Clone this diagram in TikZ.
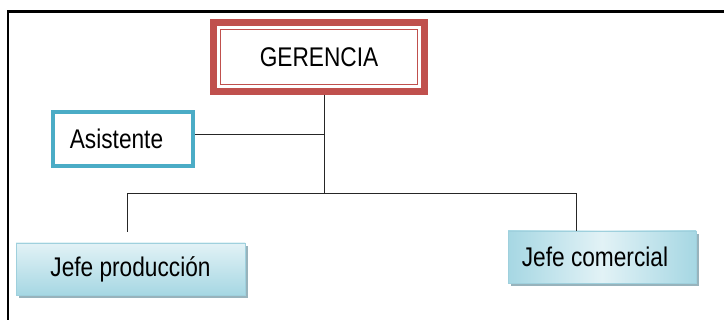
\documentclass[tikz,border=0pt]{standalone}
\usepackage{fontspec}
\setmainfont{Liberation Sans}[FakeStretch=0.84]
\usetikzlibrary{shadows,calc}
\definecolor{gred}{HTML}{C0504D}
\definecolor{ablue}{HTML}{4BACC6}
\definecolor{jtop}{HTML}{E2F2F6}
\definecolor{jbot}{HTML}{A6D7E3}
\definecolor{jedge}{HTML}{9FD0DD}
\definecolor{jshadow}{HTML}{98B3BC}
\begin{document}
\begin{tikzpicture}[x=1pt,y=-1pt,
  every node/.style={font=\fontsize{27}{30}\selectfont, inner sep=0pt, outer sep=0pt},
  conn/.style={draw=black!85, line width=0.9pt},
  frame/.style={draw=black, line width=2.2pt},
  gerbox/.style={draw=gred, line width=7pt, fill=white, minimum width=211pt, minimum height=69pt},
  gerinner/.style={draw=gred, line width=1.6pt},
  asisbox/.style={draw=ablue, line width=4pt, fill=white, minimum width=140pt, minimum height=54pt},
  jefebox/.style={draw=jedge, line width=0.6pt, minimum height=52pt,
    drop shadow={shadow xshift=2.5pt, shadow yshift=-3pt, fill=jshadow, opacity=1}},
  jpshade/.style={top color=jtop, bottom color=jbot},
  jcshade/.style={left color=jbot, right color=jbot, middle color=jtop}
]
\useasboundingbox (0,0) rectangle (724,320);
\fill[white] (0,0) rectangle (724,320);
\draw[frame] (8,320) -- (8,11.5) -- (724,11.5);

\node[gerbox] (ger) at (319,57) {GERENCIA};
\draw[gerinner] ($(ger.north west)+(7,7)$) rectangle ($(ger.south east)+(-7,-7)$);
\node[asisbox] (asis) at (123,139) {Asistente\hspace*{13pt}};
\node[jefebox, jpshade, minimum width=229pt] (jp) at (130.5,269) {Jefe producción};
\node[jefebox, jcshade, minimum width=188pt] (jc) at (602,257) {Jefe comercial\hspace*{14pt}};

\coordinate (hub) at (324,193);
\coordinate (pl) at (127,232);
\coordinate (pr) at (576,193);

\draw[conn] ([yshift=-3.5pt]hub |- ger.south) -- (hub);
\draw[conn] ([shift={(2pt,5pt)}]asis.east) -- ([yshift=5pt]asis.east -| hub);
\draw[conn] (pl) -- (pl |- hub) -- (pr) -- (pr |- jc.north);
\end{tikzpicture}
\end{document}
